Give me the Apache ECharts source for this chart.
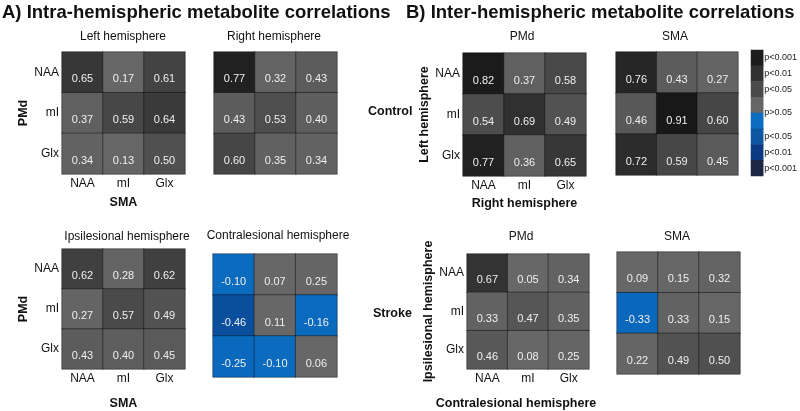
<!DOCTYPE html>
<html><head><meta charset="utf-8">
<script src="https://cdn.jsdelivr.net/npm/echarts@6/dist/echarts.min.js"></script>
<style>html,body{margin:0;padding:0;background:#fff}#c{width:800px;height:411px}</style>
</head><body><div id="c"></div>
<script>
// ---------- data ----------
const metabolites = ['NAA', 'mI', 'Glx'];
const leftHemi   = [[0.65, 0.17, 0.61], [0.37, 0.59, 0.64], [0.34, 0.13, 0.50]];
const rightHemi  = [[0.77, 0.32, 0.43], [0.43, 0.53, 0.40], [0.60, 0.35, 0.34]];
const ipsiHemi   = [[0.62, 0.28, 0.62], [0.27, 0.57, 0.49], [0.43, 0.40, 0.45]];
const contraHemi = [[-0.10, 0.07, 0.25], [-0.46, 0.11, -0.16], [-0.25, -0.10, 0.06]];
const ctrlPMd    = [[0.82, 0.37, 0.58], [0.54, 0.69, 0.49], [0.77, 0.36, 0.65]];
const ctrlSMA    = [[0.76, 0.43, 0.27], [0.46, 0.91, 0.60], [0.72, 0.59, 0.45]];
const strokePMd  = [[0.67, 0.05, 0.34], [0.33, 0.47, 0.35], [0.46, 0.08, 0.25]];
const strokeSMA  = [[0.09, 0.15, 0.32], [-0.33, 0.33, 0.15], [0.22, 0.49, 0.50]];
const legendLabels = ['p<0.001', 'p<0.01', 'p<0.05', 'p>0.05', 'p<0.05', 'p<0.01', 'p<0.001'];
const legendColors = ['#1c1c1c', '#323232', '#4a4a4a', '#666666', '#0b6cc0', '#0c56a2', '#0b3a82', '#1b2745'];

// ---------- colour scale ----------
const grayStops = [[0, 104], [0.3, 100], [0.4, 94], [0.45, 90], [0.5, 80], [0.55, 76], [0.6, 70], [0.65, 55], [0.7, 46], [0.75, 42], [0.78, 29], [0.85, 26], [1, 22]];
const blueStops = [[0, [10, 108, 192]], [0.35, [10, 104, 188]], [0.46, [10, 78, 158]], [0.6, [11, 58, 130]], [1, [27, 39, 69]]];
function interp(stops, x, f) {
  for (let i = 1; i < stops.length; i++) {
    if (x <= stops[i][0]) {
      const t = (x - stops[i-1][0]) / (stops[i][0] - stops[i-1][0]);
      return f(stops[i-1][1], stops[i][1], t);
    }
  }
  return stops[stops.length-1][1];
}
function cellColor(v) {
  if (v >= 0) {
    const g = Math.round(interp(grayStops, v, (a, b, t) => a + (b - a) * t));
    return `rgb(${g},${g},${g})`;
  }
  const c = interp(blueStops, -v, (a, b, t) => a.map((x, k) => Math.round(x + (b[k] - x) * t)));
  return `rgb(${c[0]},${c[1]},${c[2]})`;
}

const FONT = 'Liberation Sans, Arial, Helvetica, sans-serif';

// ---------- panels ----------
const panels = [
  {m: leftHemi,   g: {left: 62,  top: 52,  width: 123, height: 122}, labels: true, xName: 'SMA', yName: 'PMd', xGap: 22, yGap: 29},
  {m: rightHemi,  g: {left: 214, top: 52,  width: 123, height: 122}, labels: false},
  {m: ipsiHemi,   g: {left: 62,  top: 249, width: 123, height: 128}, labels: true, xName: 'SMA', yName: 'PMd', xGap: 28, yGap: 29},
  {m: contraHemi, g: {left: 213, top: 254, width: 124, height: 123}, labels: false},
  {m: ctrlPMd,    g: {left: 463, top: 53,  width: 123, height: 123}, labels: true, xName: 'Right hemisphere', yName: 'Left hemisphere', xGap: 21, yGap: 22},
  {m: ctrlSMA,    g: {left: 616, top: 52,  width: 122, height: 123}, labels: false},
  {m: strokePMd,  g: {left: 467, top: 254, width: 122, height: 124}, labels: true, xName: 'Contralesional hemisphere', yName: 'Ipsilesional hemisphere', xGap: 28, yGap: 26, xShift: 24},
  {m: strokeSMA,  g: {left: 617, top: 252, width: 123, height: 122}, labels: false}
];

const grids = [], xAxes = [], yAxes = [], series = [];
panels.forEach((p, i) => {
  grids.push(Object.assign({}, p.g));
  xAxes.push({
    type: 'category', gridIndex: i, data: metabolites, position: 'bottom',
    axisLine: {show: false}, axisTick: {show: false}, splitLine: {show: false},
    axisLabel: {show: p.labels, margin: 4, fontSize: 12, color: '#111', fontFamily: FONT},
    name: p.labels ? p.xName : '', nameLocation: 'middle', nameGap: p.xGap || 20,
    nameTextStyle: {fontWeight: 'bold', fontSize: 12.5, color: '#111', fontFamily: FONT,
      padding: p.xShift ? [0, p.xShift, 0, 0] : 0}
  });
  yAxes.push({
    type: 'category', gridIndex: i, data: metabolites, inverse: true,
    axisLine: {show: false}, axisTick: {show: false}, splitLine: {show: false},
    axisLabel: {show: p.labels, margin: 3, fontSize: 12, color: '#111', fontFamily: FONT, padding: [0, 0, 6, 0]},
    name: p.labels ? p.yName : '', nameLocation: 'middle', nameGap: p.yGap || 20,
    nameTextStyle: {fontWeight: 'bold', fontSize: 12.5, color: '#111', fontFamily: FONT}
  });
  const data = [];
  p.m.forEach((row, r) => row.forEach((v, c) => {
    data.push({value: [c, r, v], itemStyle: {color: cellColor(v)}});
  }));
  series.push({
    type: 'heatmap', xAxisIndex: i, yAxisIndex: i, data: data,
    itemStyle: {borderColor: 'rgba(10,10,10,0.75)', borderWidth: 0.6},
    label: {show: true, formatter: q => q.value[2].toFixed(2), color: '#efefef', fontSize: 11, fontFamily: FONT, offset: [0, 7]},
    emphasis: {disabled: true}, silent: true, animation: false
  });
});

// ---------- legend (colour key) ----------
const li = panels.length;
grids.push({left: 751, top: 50, width: 16, height: 126});
xAxes.push({type: 'category', gridIndex: li, data: ['k'], show: false});
yAxes.push({type: 'category', gridIndex: li, data: legendColors.map((c, k) => k), inverse: true, show: false});
const legendPos = {0.5: 0, 1.5: 1, 2.5: 2, 4: 3, 5.5: 4, 6.5: 5, 7.5: 6};
yAxes.push({
  type: 'value', gridIndex: li, min: 0, max: 8, interval: 0.5, inverse: true, position: 'right',
  axisLine: {show: false}, axisTick: {show: false}, splitLine: {show: false},
  axisLabel: {margin: 1, fontSize: 9, color: '#222', fontFamily: FONT, showMinLabel: true, showMaxLabel: true,
    formatter: v => (legendPos[v] !== undefined ? legendLabels[legendPos[v]] : '')}
});
series.push({
  type: 'heatmap', xAxisIndex: li, yAxisIndex: li,
  data: legendColors.map((c, k) => ({value: [0, k, k], itemStyle: {color: c}})),
  label: {show: false}, emphasis: {disabled: true}, silent: true, animation: false
});

// ---------- texts ----------
function txt(x, y, s, font, align, extra) {
  return Object.assign({type: 'text', x: x, y: y, silent: true,
    style: {text: s, font: font, fill: '#111', textAlign: align || 'center', textVerticalAlign: 'middle'}}, extra || {});
}
const boldBig = 'bold 18.5px ' + FONT, norm = '12px ' + FONT, boldMid = 'bold 12.5px ' + FONT;
const graphic = [
  txt(2, 13, 'A) Intra-hemispheric metabolite correlations', boldBig, 'left'),
  txt(406, 13, 'B) Inter-hemispheric metabolite correlations', boldBig, 'left'),
  txt(123, 37, 'Left hemisphere', norm),
  txt(274, 37, 'Right hemisphere', norm),
  txt(127, 237, 'Ipsilesional hemisphere', norm),
  txt(278, 236, 'Contralesional hemisphere', norm),
  txt(522, 37, 'PMd', norm),
  txt(675, 37, 'SMA', norm),
  txt(521, 237, 'PMd', norm),
  txt(677, 237, 'SMA', norm),
  txt(368, 112, 'Control', boldMid, 'left'),
  txt(373, 314, 'Stroke', boldMid, 'left')
];

const chart = echarts.init(document.getElementById('c'), null, {renderer: 'canvas'});
chart.setOption({
  animation: false,
  textStyle: {fontFamily: FONT},
  grid: grids, xAxis: xAxes, yAxis: yAxes, series: series, graphic: graphic
});
</script></body></html>
